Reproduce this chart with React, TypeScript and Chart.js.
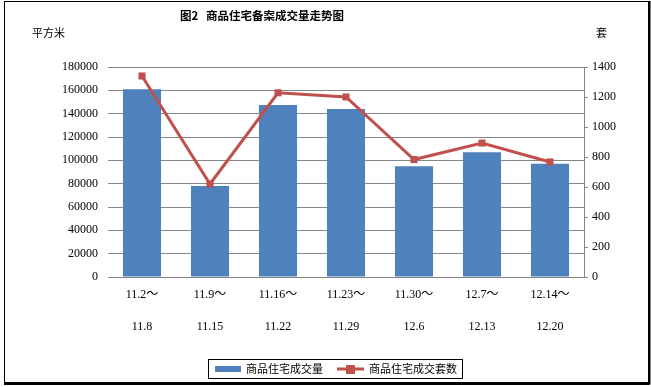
import React, { useEffect, useRef } from "react";
import { Chart, registerables } from "chart.js";

Chart.register(...registerables);

const categories: string[][] = [
  ["11.2～", "11.8"],
  ["11.9～", "11.15"],
  ["11.16～", "11.22"],
  ["11.23～", "11.29"],
  ["11.30～", "12.6"],
  ["12.7～", "12.13"],
  ["12.14～", "12.20"],
];
const areaValues: number[] = [161000, 78000, 147500, 144000, 95000, 107000, 97000];
const unitValues: number[] = [1340, 620, 1228, 1200, 783, 893, 767];

const titleText = "图2   商品住宅备案成交量走势图";
const leftUnit = "平方米";
const rightUnit = "套";
const barLabel = "商品住宅成交量";
const lineLabel = "商品住宅成交套数";

const BAR_COLOR = "#4F81BD";
const LINE_COLOR = "#C0504D";
const GRID = "#868686";
const CJK = "'Noto Sans CJK SC', sans-serif";
const TICK_FONT = "'Liberation Serif', 'Noto Sans CJK SC', serif";

const decorPlugin = {
  id: "decor",
  afterDraw(chart: any) {
    const ctx = chart.ctx as CanvasRenderingContext2D;
    ctx.save();
    // outer border
    ctx.strokeStyle = "#000";
    ctx.lineWidth = 1;
    ctx.strokeRect(4.5, 1.5, 644, 381);
    ctx.lineWidth = 2;
    ctx.beginPath();
    ctx.moveTo(4, 384);
    ctx.lineTo(650, 384);
    ctx.moveTo(649.5, 1);
    ctx.lineTo(649.5, 384);
    ctx.stroke();

    // title
    ctx.fillStyle = "#000";
    ctx.textBaseline = "middle";
    ctx.textAlign = "center";
    ctx.font = `bold 11.5px ${CJK}`;
    ctx.fillText(titleText, 262, 16);

    // units
    ctx.font = `11px ${CJK}`;
    ctx.textAlign = "left";
    ctx.fillText(leftUnit, 32, 33);
    ctx.fillText(rightUnit, 596, 33);

    // legend
    ctx.lineWidth = 1;
    ctx.strokeStyle = "#000";
    ctx.strokeRect(208.5, 359.5, 254, 19);
    ctx.fillStyle = BAR_COLOR;
    ctx.fillRect(215, 366, 26, 6);
    ctx.fillStyle = "#000";
    ctx.font = `11px ${CJK}`;
    ctx.fillText(barLabel, 246, 369);
    ctx.strokeStyle = LINE_COLOR;
    ctx.lineWidth = 3;
    ctx.beginPath();
    ctx.moveTo(337, 369);
    ctx.lineTo(364, 369);
    ctx.stroke();
    ctx.fillStyle = LINE_COLOR;
    ctx.fillRect(346, 365, 9, 9);
    ctx.fillStyle = "#000";
    ctx.fillText(lineLabel, 369, 369);
    ctx.restore();
  },
};

export default function App() {
  const ref = useRef<HTMLCanvasElement | null>(null);
  useEffect(() => {
    if (!ref.current) return;
    const chart = new Chart(ref.current, {
      type: "bar",
      data: {
        labels: categories,
        datasets: [
          {
            type: "line",
            label: lineLabel,
            data: unitValues,
            yAxisID: "y1",
            borderColor: LINE_COLOR,
            backgroundColor: LINE_COLOR,
            borderWidth: 3,
            pointStyle: "rect",
            pointRadius: 5,
            pointBorderWidth: 0,
            order: 0,
          } as any,
          {
            type: "bar",
            label: barLabel,
            data: areaValues,
            yAxisID: "y",
            backgroundColor: BAR_COLOR,
            categoryPercentage: 1,
            barPercentage: 0.56,
            order: 1,
          } as any,
        ],
      },
      options: {
        responsive: false,
        animation: false,
        devicePixelRatio: 1,
        layout: { padding: { top: 67, left: 0, right: 0, bottom: 0 } },
        plugins: {
          legend: { display: false },
          title: { display: false },
          tooltip: { enabled: false },
        },
        scales: {
          x: {
            grid: { display: false, drawTicks: false },
            border: { display: false },
            ticks: {
              color: "#000",
              padding: 2,
              maxRotation: 0,
              autoSkip: false,
              font: { family: TICK_FONT, size: 12, lineHeight: 2.67 },
            },
            afterFit(scale: any) {
              scale.height = 110;
            },
          },
          y: {
            position: "left",
            min: 0,
            max: 180000,
            grid: { color: GRID, drawTicks: false },
            border: { display: false },
            ticks: {
              stepSize: 20000,
              color: "#000",
              padding: 10,
              font: { family: TICK_FONT, size: 12 },
              callback: (v: any) => String(v),
            },
            afterFit(scale: any) {
              scale.width = 108;
            },
          },
          y1: {
            position: "right",
            min: 0,
            max: 1400,
            grid: { drawOnChartArea: false, color: GRID, tickLength: 4 },
            border: { display: true, color: GRID },
            ticks: {
              stepSize: 200,
              color: "#000",
              padding: 4,
              font: { family: TICK_FONT, size: 12 },
              callback: (v: any) => String(v),
            },
            afterFit(scale: any) {
              scale.width = 67;
            },
          },
        },
      } as any,
      plugins: [decorPlugin],
    });
    return () => chart.destroy();
  }, []);
  return (
    <div style={{ position: "absolute", left: 0, top: 0, width: 651, height: 387, background: "#fff" }}>
      <canvas ref={ref} width={651} height={387} style={{ display: "block" }} />
    </div>
  );
}
